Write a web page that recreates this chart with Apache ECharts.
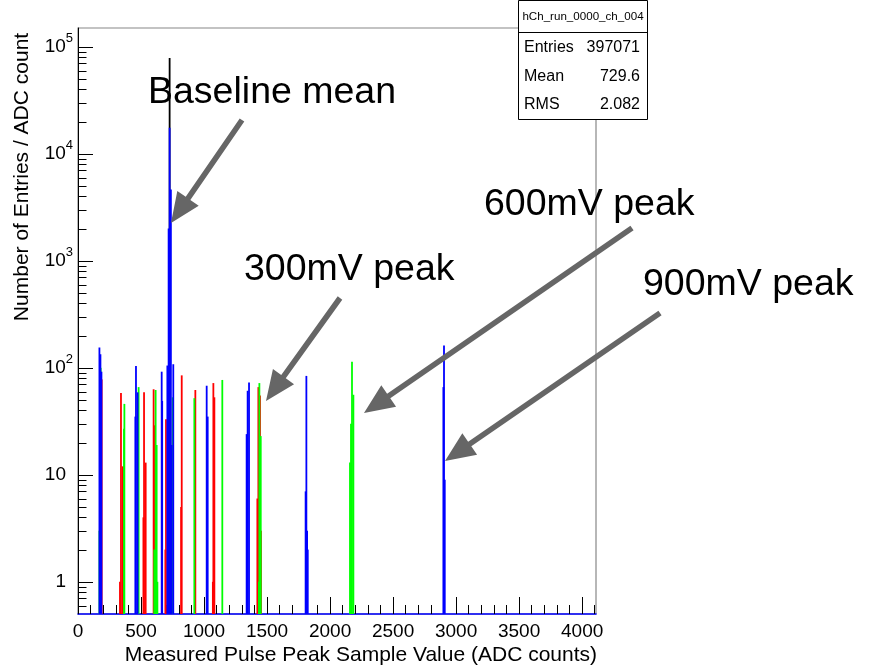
<!DOCTYPE html>
<html>
<head>
<meta charset="utf-8">
<script src="https://cdn.jsdelivr.net/npm/echarts@6/dist/echarts.min.js"></script>
<style>
html,body{margin:0;padding:0;background:#fff;}
#chart{width:870px;height:666px;}
</style>
</head>
<body>
<div id="chart"></div>
<script>
// ---------- axis ticks ----------
const xMajorTicks = [0, 500, 1000, 1500, 2000, 2500, 3000, 3500, 4000];
const xMinorTicks = [0,100,200,300,400,500,600,700,800,900,1000,1100,1200,1300,1400,1500,1600,1700,1800,1900,2000,
  2100,2200,2300,2400,2500,2600,2700,2800,2900,3000,3100,3200,3300,3400,3500,3600,3700,3800,3900,4000,4100];
const yMajorTicks = [1, 10, 100, 1000, 10000, 100000];
const yMinorTicks = [0.6,0.7,0.8,0.9, 2,3,4,5,6,7,8,9, 20,30,40,50,60,70,80,90,
  200,300,400,500,600,700,800,900, 2000,3000,4000,5000,6000,7000,8000,9000,
  20000,30000,40000,50000,60000,70000,80000,90000];

// ---------- histogram contents: [ADC value, entries] ----------
const blackBins = [[727, 78500]];
const redBins = [
  [188, 78],
  [333, 1], [341, 58], [355, 12],
  [519, 4], [524, 59], [537, 13],
  [600, 63], [604, 29],
  [693, 2], [698, 33],
  [818, 5], [823, 85],
  [931, 62],
  [1070, 1], [1074, 72], [1082, 53],
  [1423, 6], [1431, 66], [1444, 55], [1452, 3]
];
const greenBins = [
  [170, 3], [180, 100],
  [365, 27], [368, 46],
  [481, 66],
  [605, 2], [616, 62], [624, 19], [630, 1],
  [719, 66], [731, 2100], [751, 53],
  [923, 52],
  [1145, 77],
  [1436, 1], [1439, 72], [1450, 23],
  [2158, 13], [2166, 30], [2174, 114], [2185, 56]
];
const blueBins = [
  [170, 155], [178, 134], [186, 92],
  [455, 35], [460, 104], [473, 59],
  [664, 92], [668, 49],
  [709, 105], [719, 2000], [727, 17500], [737, 4640], [743, 19], [756, 108],
  [1021, 68], [1029, 35],
  [1338, 24], [1346, 61], [1357, 73],
  [1806, 7], [1812, 84], [1818, 3], [1823, 2],
  [2899, 66], [2904, 162], [2910, 9]
];

// ---------- stats box ----------
const statsTitle = 'hCh_run_0000_ch_004';
const statsNames = ['Entries', 'Mean', 'RMS'];
const statsValues = ['397071', '729.6', '2.082'];

// ---------- annotations ----------
const annoTexts = ['Baseline mean', '300mV peak', '600mV peak', '900mV peak'];

const X_MIN = 0, X_MAX = 4110, Y_MIN = 0.5, Y_MAX = 150000;
const FONT = 'Liberation Sans, Arial, Helvetica, sans-serif';

function spikeSeries(name, bins, color, z) {
  return {
    name: name, type: 'custom', coordinateSystem: 'cartesian2d',
    xAxisIndex: 0, yAxisIndex: 0, z: z, silent: true, clip: true,
    data: bins,
    renderItem: function (params, api) {
      const top = api.coord([api.value(0), api.value(1)]);
      const bot = api.coord([api.value(0), Y_MIN]);
      return {
        type: 'line',
        shape: { x1: top[0], y1: top[1], x2: bot[0], y2: bot[1] },
        style: { stroke: color, lineWidth: 1.8 }
      };
    }
  };
}

// minor ticks of the log axis (2..9 per decade), placed through the y scale
const yMinorTickSeries = {
  name: 'yMinorTicks', type: 'custom', coordinateSystem: 'cartesian2d',
  xAxisIndex: 0, yAxisIndex: 0, z: 1, silent: true, clip: false,
  data: yMinorTicks.map(function (v) { return [X_MIN, v]; }),
  renderItem: function (params, api) {
    const p = api.coord([api.value(0), api.value(1)]);
    const x = Math.round(p[0]) + 0.5, y = Math.round(p[1]) + 0.5;
    return {
      type: 'line',
      shape: { x1: x, y1: y, x2: x + 8, y2: y },
      style: { stroke: '#000', lineWidth: 1 }
    };
  }
};

function yLabelFmt(v) {
  const e = Math.round(Math.log10(v));
  if (e === 0) return '{p|1}';
  if (e === 1) return '{p|10}';
  return '{b|10}{s|' + e + '}';
}

function arrow(tail, tip) {
  const dx = tip[0] - tail[0], dy = tip[1] - tail[1];
  const len = Math.sqrt(dx * dx + dy * dy);
  const ux = dx / len, uy = dy / len;
  const nx = -uy, ny = ux;
  const w = 2.8, L = 30, h = 13;
  const bx = tip[0] - ux * L, by = tip[1] - uy * L;
  return {
    type: 'polygon', z: 200, silent: true,
    shape: { points: [
      [tail[0] + nx * w, tail[1] + ny * w], [bx + nx * w, by + ny * w], [bx + nx * h, by + ny * h],
      [tip[0], tip[1]],
      [bx - nx * h, by - ny * h], [bx - nx * w, by - ny * w], [tail[0] - nx * w, tail[1] - ny * w]
    ] },
    style: { fill: '#666666' }
  };
}

const annoLayout = [
  { x: 148, y: 93, tail: [242, 120], tip: [171, 223] },
  { x: 244, y: 270, tail: [340, 298], tip: [266, 401] },
  { x: 484, y: 205, tail: [632, 228], tip: [364, 413] },
  { x: 643, y: 285, tail: [660, 313], tip: [445, 461] }
];

const graphics = [];
annoTexts.forEach(function (t, i) {
  const a = annoLayout[i];
  graphics.push({
    type: 'text', z: 210, x: a.x, y: a.y, silent: true,
    style: { text: t, font: '37.5px ' + FONT, fill: '#000', verticalAlign: 'middle', align: 'left' }
  });
  graphics.push(arrow(a.tail, a.tip));
});
// axis titles
graphics.push({
  type: 'text', z: 100, x: 22, y: 177, rotation: Math.PI / 2, silent: true,
  style: { text: 'Number of Entries / ADC count', font: '21px ' + FONT, fill: '#000', align: 'center', verticalAlign: 'middle' }
});
graphics.push({
  type: 'text', z: 100, x: 597, y: 655, silent: true,
  style: { text: 'Measured Pulse Peak Sample Value (ADC counts)', font: '21px ' + FONT, fill: '#000', align: 'right', verticalAlign: 'middle' }
});
// stats box
const box = { l: 518.5, r: 647.5, t: 0.5, b: 119.5, sep: 32.5 };
graphics.push({
  type: 'rect', z: 300, silent: true,
  shape: { x: box.l, y: box.t, width: box.r - box.l, height: box.b - box.t },
  style: { fill: '#fff', stroke: '#000', lineWidth: 1 }
});
graphics.push({
  type: 'line', z: 301, silent: true,
  shape: { x1: box.l, y1: box.sep, x2: box.r, y2: box.sep },
  style: { stroke: '#000', lineWidth: 1 }
});
graphics.push({
  type: 'text', z: 302, x: (box.l + box.r) / 2, y: 16.5, silent: true,
  style: { text: statsTitle, font: '11.6px ' + FONT, fill: '#000', align: 'center', verticalAlign: 'middle' }
});
const rowY = [48, 77, 105];
statsNames.forEach(function (n, i) {
  graphics.push({ type: 'text', z: 302, x: 524, y: rowY[i], silent: true,
    style: { text: n, font: '16px ' + FONT, fill: '#000', align: 'left', verticalAlign: 'middle' } });
  graphics.push({ type: 'text', z: 302, x: 640, y: rowY[i], silent: true,
    style: { text: statsValues[i], font: '16px ' + FONT, fill: '#000', align: 'right', verticalAlign: 'middle' } });
});

const chart = echarts.init(document.getElementById('chart'), null, { renderer: 'canvas' });
chart.setOption({
  animation: false,
  backgroundColor: '#ffffff',
  grid: {
    left: 78, top: 28, right: 274, bottom: 52,
    containLabel: false, outerBoundsMode: 'none',
    show: true, borderColor: '#888888', borderWidth: 1.2, backgroundColor: 'transparent'
  },
  xAxis: [
    {
      type: 'value', min: X_MIN, max: X_MAX, position: 'bottom',
      axisLine: { show: true, onZero: false, lineStyle: { color: '#0000ff', width: 1.5 } },
      axisTick: { show: true, inside: true, length: 17, customValues: xMajorTicks, lineStyle: { color: '#000', width: 1 } },
      axisLabel: { show: true, customValues: xMajorTicks, fontFamily: FONT, fontSize: 19, color: '#000', margin: 8,
        formatter: function (v) { return String(v); } },
      splitLine: { show: false }
    },
    {
      type: 'value', min: X_MIN, max: X_MAX, position: 'bottom', offset: 0,
      axisLine: { show: false, onZero: false },
      axisTick: { show: true, inside: true, length: 9, customValues: xMinorTicks, lineStyle: { color: '#000', width: 1 } },
      axisLabel: { show: false },
      splitLine: { show: false }
    }
  ],
  yAxis: [
    {
      type: 'log', logBase: 10, min: Y_MIN, max: Y_MAX, position: 'left',
      axisLine: { show: true, onZero: false, lineStyle: { color: '#000', width: 1 } },
      axisTick: { show: true, inside: true, length: 15, customValues: yMajorTicks, lineStyle: { color: '#000', width: 1 } },
      axisLabel: {
        show: true, customValues: yMajorTicks, formatter: yLabelFmt, color: '#000', margin: 5,
        fontFamily: FONT, fontSize: 19,
        rich: {
          p: { fontFamily: FONT, fontSize: 19, color: '#000', padding: [0, 7, 0, 0] },
          b: { fontFamily: FONT, fontSize: 19, color: '#000' },
          s: { fontFamily: FONT, fontSize: 13, color: '#000', padding: [0, 0, 16, 0] }
        }
      },
      splitLine: { show: false }
    }
  ],
  series: [
    yMinorTickSeries,
    spikeSeries('black', blackBins, '#000000', 2),
    spikeSeries('red', redBins, '#ff0000', 3),
    spikeSeries('green', greenBins, '#00ff00', 4),
    spikeSeries('blue', blueBins, '#0000ff', 5)
  ],
  graphic: graphics
});
</script>
</body>
</html>
